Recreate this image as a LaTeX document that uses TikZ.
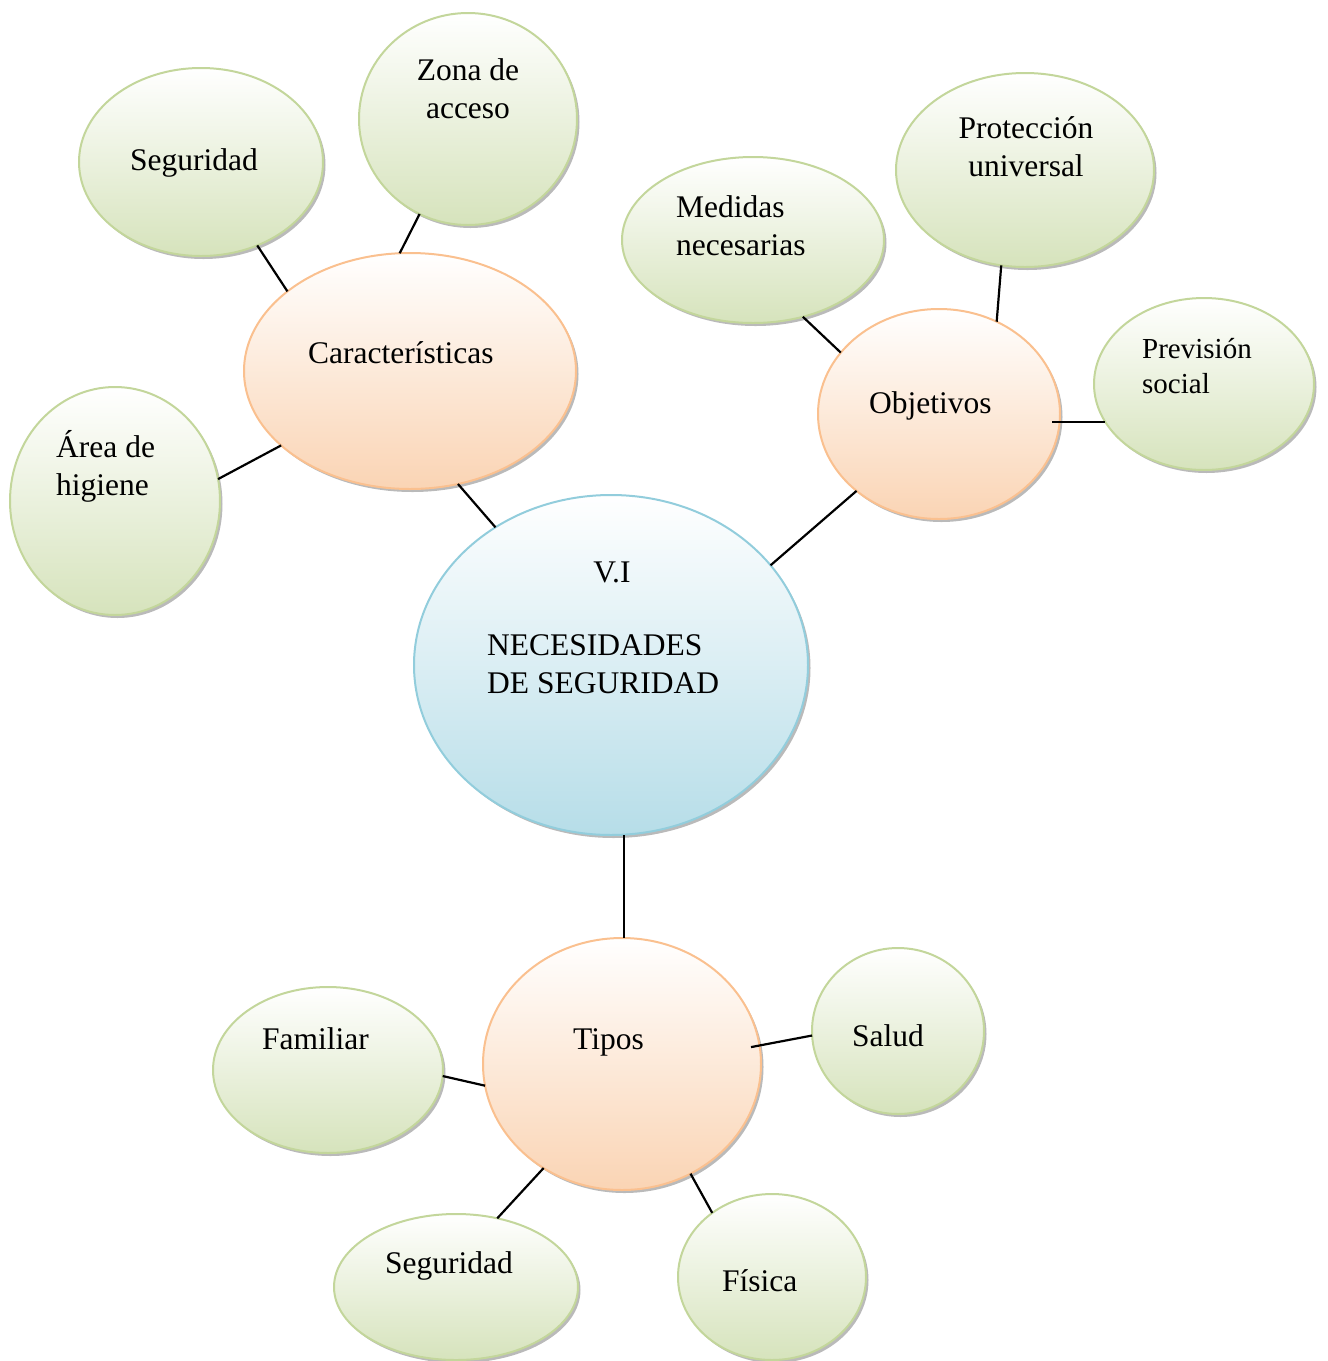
\documentclass[tikz,border=0pt]{standalone}
\usepackage{fontspec}
\setmainfont{Liberation Serif}
\usetikzlibrary{shapes.geometric,shadows}
\definecolor{gbord}{RGB}{195,214,155}
\definecolor{gbot}{RGB}{214,227,188}
\definecolor{obord}{RGB}{250,192,143}
\definecolor{obot}{RGB}{250,212,180}
\definecolor{bbord}{RGB}{146,205,220}
\definecolor{bbot}{RGB}{182,221,232}
\tikzset{
  bubble/.style={ellipse, inner sep=0pt, outer sep=0pt, line width=2pt,
    drop shadow={shadow xshift=2.5pt, shadow yshift=-3pt, fill=black!60, opacity=.45}},
  leaf/.style={bubble, draw=gbord, top color=white, bottom color=gbot},
  mid/.style={bubble, draw=obord, top color=white, bottom color=obot},
  hub/.style={bubble, draw=bbord, top color=white, bottom color=bbot},
  txt/.style={inner sep=0pt, font=\fontsize{31.5}{37.5}\selectfont},
  stxt/.style={inner sep=0pt, font=\fontsize{29}{35}\selectfont},
  link/.style={line width=2.2pt, black}
}
\begin{document}
\begin{tikzpicture}[x=1pt,y=-1pt]
\useasboundingbox (0,0) rectangle (1328,1361);
% ellipses
\node[hub, minimum width=394pt, minimum height=340pt] (main) at (611,665) {};
\node[mid, minimum width=332pt, minimum height=236pt] (car) at (410,371) {};
\node[leaf, minimum width=244pt, minimum height=188pt] (seg1) at (201,162) {};
\node[leaf, minimum width=218pt, minimum height=212pt] (zona) at (468,119) {};
\node[leaf, minimum width=210pt, minimum height=228pt] (area) at (115,501) {};
\node[mid, minimum width=242pt, minimum height=210pt] (obj) at (939,414) {};
\node[leaf, minimum width=262pt, minimum height=166pt] (med) at (753,240) {};
\node[leaf, minimum width=258pt, minimum height=194pt] (prot) at (1025,170) {};
\node[leaf, minimum width=220pt, minimum height=172pt] (prev) at (1204,384) {};
\node[mid, minimum width=278pt, minimum height=252pt] (tip) at (622,1064) {};
\node[leaf, minimum width=230pt, minimum height=166pt] (fam) at (328,1070) {};
\node[leaf, minimum width=172pt, minimum height=166pt] (sal) at (898,1031) {};
\node[leaf, minimum width=244pt, minimum height=146pt] (seg2) at (456,1287) {};
\node[leaf, minimum width=188pt, minimum height=166pt] (fis) at (772,1277) {};
% texts (multi-line nodes: base = last line)
\node[txt, anchor=base] (tmain1) at (612,582) {V.I};
\node[txt, anchor=base west, align=left] (tmain2) at (487,693) {NECESIDADES\\DE SEGURIDAD};
\node[txt, anchor=base west] (tcar) at (308,363) {Características};
\node[txt, anchor=base west] (tseg1) at (130,170) {Seguridad};
\node[txt, anchor=base, align=center] (tzona) at (468,118) {Zona de\\acceso};
\node[txt, anchor=base west, align=left] (tarea) at (56,495) {Área de\\higiene};
\node[txt, anchor=base west] (tobj) at (869,413) {Objetivos};
\node[txt, anchor=base west, align=left] (tmed) at (676,255) {Medidas\\necesarias};
\node[txt, anchor=base, align=center] (tprot) at (1026,176) {Protección\\universal};
\node[stxt, anchor=base west, align=left] (tprev) at (1142,393) {Previsión\\social};
\node[txt, anchor=base west] (ttip) at (573,1049) {Tipos};
\node[txt, anchor=base west] (tfam) at (262,1049) {Familiar};
\node[txt, anchor=base west] (tsal) at (852,1046) {Salud};
\node[txt, anchor=base west] (tseg2) at (385,1273) {Seguridad};
\node[txt, anchor=base west] (tfis) at (722,1291) {Física};
% connectors
\draw[link] (car.147.2) -- (seg1.304.2);
\draw[link] (car.95.4) -- (zona.243.4);
\draw[link] (car.210.5) -- (area.12.9);
\draw[link] (car.293.2) -- (main.130.2);
\draw[link] (main.32.4) -- (obj.223.2);
\draw[link] (obj.148.9) -- (med.303.3);
\draw[link] (obj.58.5) -- (prot.256.8);
\draw[link] ([xshift=-8pt]obj.east |- prev.201.4) -- (prev.201.4);
\draw[link] ([xshift=13pt]main.south) -- ([xshift=13pt]main.south |- tip.north);
\draw[link] (tip.189.1) -- (fam.357);
\draw[link] ([xshift=-10pt]tip.east |- tip.7.9) -- (sal.183.3);
\draw[link] (tip.233.8) -- (seg2.59.3);
\draw[link] (tip.302.7) -- (fis.133.6);
\end{tikzpicture}
\end{document}
